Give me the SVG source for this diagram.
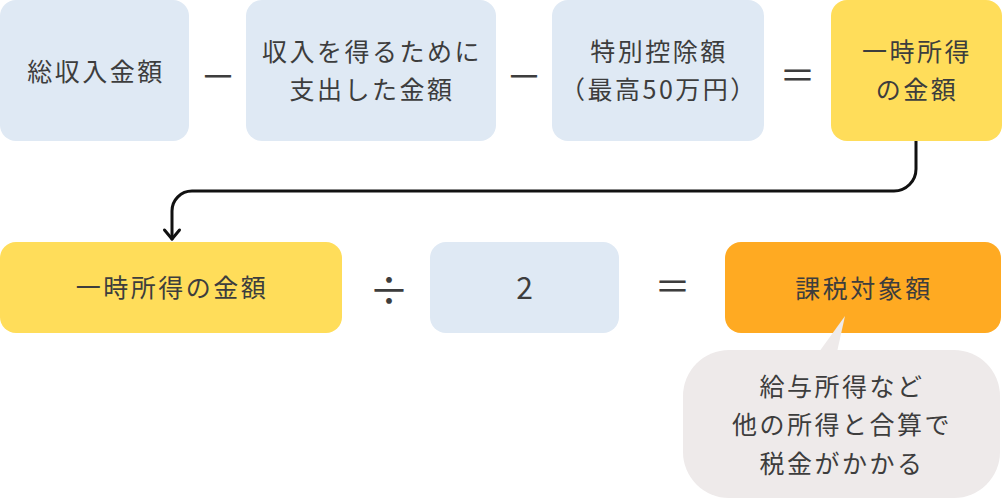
<svg xmlns="http://www.w3.org/2000/svg" width="1002" height="499" viewBox="0 0 1002 499">
<defs>
<style>
.blue{fill:#DFE9F4}
.yellow{fill:#FFDD5A}
.orange{fill:#FFAA22}
.bubble{fill:#EEEAEA}
text{font-family:"Noto Sans CJK JP","Noto Sans",sans-serif;fill:#3D3D3D;text-anchor:middle}
.t{font-size:25px;letter-spacing:2.5px}
.op{font-size:36px}
.conn{fill:none;stroke:#111;stroke-width:3;stroke-linecap:round;stroke-linejoin:round}
</style>
<marker id="arrow" markerUnits="userSpaceOnUse" orient="auto" markerWidth="24" markerHeight="24" refX="0" refY="0" viewBox="-12 -12 24 24" overflow="visible">
<path d="M -9 -7.5 L 0 0 L -9 7.5" fill="none" stroke="#111" stroke-width="3" stroke-linecap="round" stroke-linejoin="round"/>
</marker>
</defs>
<rect width="1002" height="499" fill="#FFFFFF"/>

<g id="connectors">
<path class="conn" d="M 916 141 V 169 A 22 22 0 0 1 894 191 H 192 A 20 20 0 0 0 172 211 V 239" marker-end="url(#arrow)"/>
</g>

<g id="node-total-income">
<rect class="blue" x="0" y="0" width="189" height="141" rx="16"/>
<text class="t" x="96" y="80.5">総収入金額</text>
</g>
<g id="op-minus-1"><text class="op" x="218" y="89.5">－</text></g>
<g id="node-expenses">
<rect class="blue" x="246" y="0" width="250" height="141" rx="16"/>
<text class="t" x="372" y="61">収入を得るために</text>
<text class="t" x="372" y="98.5">支出した金額</text>
</g>
<g id="op-minus-2"><text class="op" x="524" y="89.5">－</text></g>
<g id="node-special-deduction">
<rect class="blue" x="552" y="0" width="212" height="141" rx="16"/>
<text class="t" x="659" y="61">特別控除額</text>
<text class="t" x="659" y="98.5">（最高50万円）</text>
</g>
<g id="op-equals-1"><text class="op" x="797.5" y="89">＝</text></g>
<g id="node-temporary-income">
<rect class="yellow" x="831" y="0" width="171" height="141" rx="16"/>
<text class="t" x="917" y="61">一時所得</text>
<text class="t" x="917" y="98.5">の金額</text>
</g>

<g id="node-temporary-income-2">
<rect class="yellow" x="0" y="242" width="342" height="91" rx="16"/>
<text class="t" x="172" y="297">一時所得の金額</text>
</g>
<g id="op-divide"><text class="op" x="389" y="305" style="font-size:40px">÷</text></g>
<g id="node-two">
<rect class="blue" x="430" y="242" width="189" height="91" rx="16"/>
<text x="524.5" y="299" style="font-size:30px">2</text>
</g>
<g id="op-equals-2"><text class="op" x="672.5" y="300">＝</text></g>
<g id="node-taxable">
<rect class="orange" x="725" y="242" width="276" height="91" rx="16"/>
<text class="t" x="864" y="298">課税対象額</text>
</g>

<g id="callout">
<polygon class="bubble" points="819,352 845,316 837,352"/>
<rect class="bubble" x="683" y="350" width="317" height="148" rx="46"/>
<text class="t" x="842" y="395.5">給与所得など</text>
<text class="t" x="842" y="433.5">他の所得と合算で</text>
<text class="t" x="842" y="472.5">税金がかかる</text>
</g>
</svg>
